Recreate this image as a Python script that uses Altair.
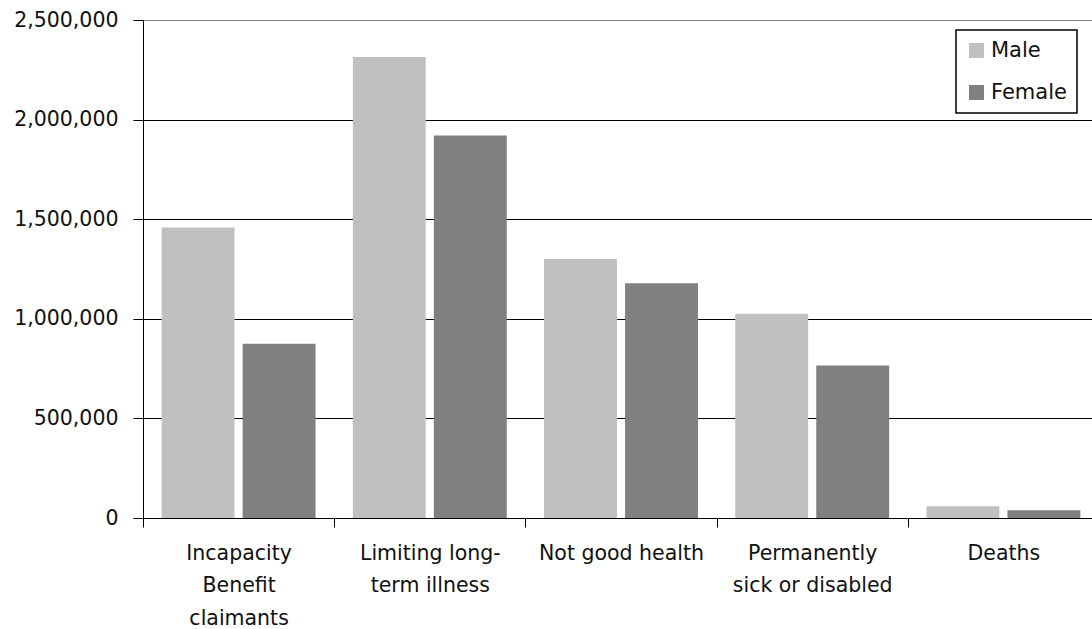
import altair as alt
import pandas as pd

# Categories ("|" marks a line break in the axis label)
categories = [
    "Incapacity|Benefit|claimants",
    "Limiting long-|term illness",
    "Not good health",
    "Permanently|sick or disabled",
    "Deaths",
]
male = [1458000, 2314000, 1300000, 1025000, 59000]
female = [875000, 1920000, 1179000, 765000, 39000]
sexes = ["Male", "Female"]
colors = ["#c0c0c0", "#808080"]
y_ticks = [0, 500000, 1000000, 1500000, 2000000, 2500000]

rows = []
for cat, m, f in zip(categories, male, female):
    rows.append({"category": cat, "sex": "Male", "value": m})
    rows.append({"category": cat, "sex": "Female", "value": f})
df = pd.DataFrame(rows)

FONT = "DejaVu Sans"

chart = (
    alt.Chart(df)
    .mark_bar()
    .encode(
        x=alt.X(
            "category:N",
            sort=categories,
            scale=alt.Scale(range=[0, 956], paddingInner=0, paddingOuter=0),
            axis=alt.Axis(
                title=None,
                labelAngle=0,
                tickBand="extent",
                labelExpr="split(datum.label, '|')",
                labelFont=FONT,
                labelFontSize=20.5,
                labelColor="#111111",
                labelAlign="center",
                labelBaseline="top",
                labelLineHeight=32.5,
                labelPadding=16,
                labelOverlap=False,
                labelLimit=400,
                tickSize=9,
                tickColor="black",
                domainColor="black",
                grid=False,
            ),
        ),
        xOffset=alt.XOffset(
            "sex:N", sort=sexes, scale=alt.Scale(paddingInner=0.1, paddingOuter=0.23)
        ),
        y=alt.Y(
            "value:Q",
            scale=alt.Scale(domain=[0, 2500000], nice=False),
            axis=alt.Axis(
                title=None,
                values=y_ticks,
                format=",d",
                labelFont=FONT,
                labelFontSize=20.5,
                labelColor="#111111",
                labelPadding=15,
                tickSize=10,
                tickColor="black",
                domainColor="black",
                grid=True,
                gridColor={
                    "condition": {"test": "datum.value === 2500000", "value": "#808080"},
                    "value": "#000000",
                },
                gridWidth=1,
            ),
        ),
        color=alt.Color(
            "sex:N",
            sort=sexes,
            scale=alt.Scale(domain=sexes, range=colors),
            legend=alt.Legend(
                title=None,
                orient="none",
                legendX=813,
                legendY=10,
                direction="vertical",
                symbolType="square",
                symbolSize=225,
                symbolStrokeWidth=0,
                symbolOpacity=1,
                labelFont=FONT,
                labelFontSize=21,
                labelColor="#111111",
                labelOffset=4,
                rowPadding=20,
                padding=10,
                strokeColor="black",
                fillColor="white",
            ),
        ),
    )
    .properties(
        width=949,
        height=498,
        autosize=alt.AutoSizeParams(type="none"),
        padding={"left": 143, "top": 20, "right": 0, "bottom": 111},
    )
    .configure_view(stroke=None)
    .configure_legend(strokeWidth=1.5, cornerRadius=0)
)

chart.save("out.html", embed_options={"renderer": "svg", "actions": False})
